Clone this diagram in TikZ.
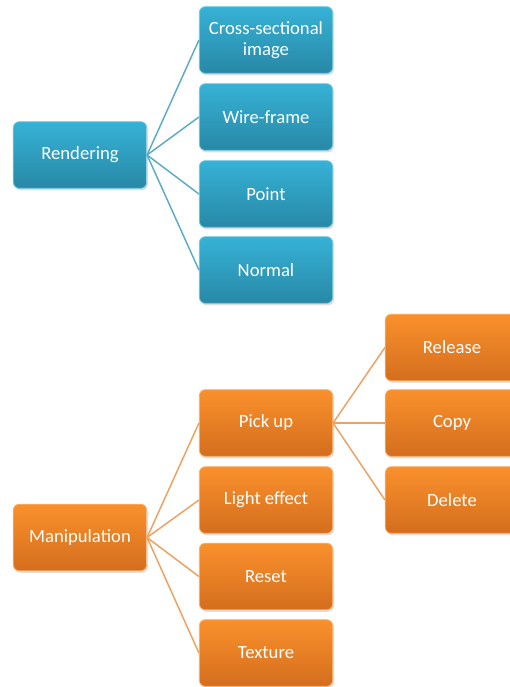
\documentclass[tikz,border=0pt]{standalone}
\usepackage{fontspec}
\setmainfont{Carlito}
\usepackage{tikz}
\usetikzlibrary{shadows}

\definecolor{blueTop}{RGB}{54,178,214}
\definecolor{blueBot}{RGB}{40,136,166}
\definecolor{blueLine}{RGB}{92,172,196}
\definecolor{orangeTop}{RGB}{250,144,44}
\definecolor{orangeBot}{RGB}{212,110,30}
\definecolor{orangeLine}{RGB}{240,160,96}

\tikzset{
  box/.style={rounded corners=4.5pt, minimum width=100pt, minimum height=50pt,
    inner sep=1pt, align=center, text=white, font=\fontsize{14}{16}\selectfont,
    drop shadow={opacity=0.25, shadow xshift=1pt, shadow yshift=-1.5pt}},
  bluebox/.style={box, draw=blueTop!70!white, line width=0.6pt, top color=blueTop, bottom color=blueBot},
  orangebox/.style={box, draw=orangeTop!70!white, line width=0.6pt, top color=orangeTop, bottom color=orangeBot},
  blueline/.style={draw=blueLine, line width=1.1pt},
  orangeline/.style={draw=orangeLine, line width=1.1pt}
}

\begin{document}
\begin{tikzpicture}[x=0.75pt,y=0.75pt,yscale=-1,xscale=1]
%set diagram to 510 x 687
\path [use as bounding box, clip] (0,0) rectangle (510,687);

%Shape: Rounded Rect [id:rendering] 
\draw (80,155) node [bluebox] (rend) {Rendering};
% Text Node
\draw (266,40) node [bluebox] (cross) {Cross-sectional\\image};
% Text Node
\draw (266,117) node [bluebox] (wire) {Wire-frame};
% Text Node
\draw (266,194) node [bluebox] (point) {Point};
% Text Node
\draw (266,270) node [bluebox] (normal) {Normal};

%Straight Lines [id:rendering links] 
\draw [blueline] (rend.east) -- (cross.west) ;
\draw [blueline] (rend.east) -- (wire.west) ;
\draw [blueline] (rend.east) -- (point.west) ;
\draw [blueline] (rend.east) -- (normal.west) ;

%Shape: Rounded Rect [id:manipulation] 
\draw (80,537.5) node [orangebox] (manip) {Manipulation};
% Text Node
\draw (266,423) node [orangebox] (pick) {Pick up};
% Text Node
\draw (266,500) node [orangebox] (light) {Light effect};
% Text Node
\draw (266,576.5) node [orangebox] (reset) {Reset};
% Text Node
\draw (266,653) node [orangebox] (texture) {Texture};
% Text Node
\draw (452,347.5) node [orangebox] (release) {Release};
% Text Node
\draw (452,423) node [orangebox] (copy) {Copy};
% Text Node
\draw (452,500) node [orangebox] (delete) {Delete};

%Straight Lines [id:manipulation links] 
\draw [orangeline] (manip.east) -- (pick.west) ;
\draw [orangeline] (manip.east) -- (light.west) ;
\draw [orangeline] (manip.east) -- (reset.west) ;
\draw [orangeline] (manip.east) -- (texture.west) ;
\draw [orangeline] (pick.east) -- (release.west) ;
\draw [orangeline] (pick.east) -- (copy.west) ;
\draw [orangeline] (pick.east) -- (delete.west) ;

\end{tikzpicture}
\end{document}
